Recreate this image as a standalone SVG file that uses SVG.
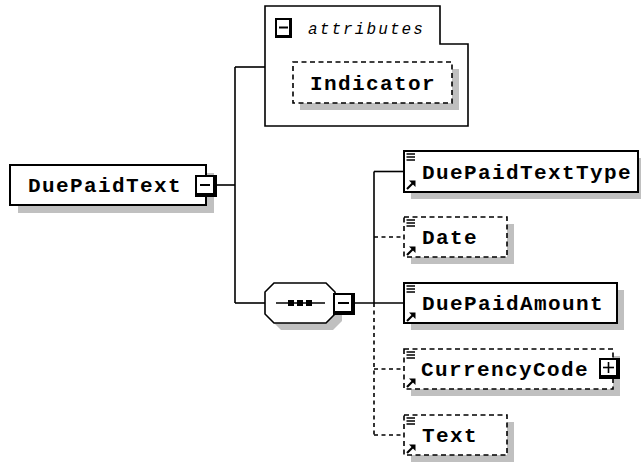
<svg xmlns="http://www.w3.org/2000/svg" width="641" height="466" viewBox="0 0 641 466">
<style>
.shadow{fill:#c0c0c0;stroke:none}
.box{fill:#fff;stroke:#000;stroke-width:2}
.dbox{fill:#fff;stroke:#000;stroke-width:1.6;stroke-dasharray:5,3.5}
.lbl{font-family:"Liberation Mono",monospace;font-weight:bold;font-size:21px;letter-spacing:1.4px;fill:#000}
.ital{font-family:"Liberation Mono",monospace;font-style:italic;font-size:16px;letter-spacing:2.1px;fill:#000}
.ln{stroke:#000;stroke-width:1.6;fill:none}
.dl{stroke:#000;stroke-width:1.6;fill:none;stroke-dasharray:4,3.5}
.ic{stroke:#000;stroke-width:1.4;fill:none}
</style>
<defs>
<g id="elicon">
<path class="ic" d="M2.5,3 H11 M2.5,6 H11 M2.5,9 H11"/>
<path d="M3,38 L9,32" stroke="#000" stroke-width="2.2" fill="none"/>
<path d="M5,29.5 L11.5,29.5 L11.5,36 Z" fill="#000"/>
</g>
</defs>
<rect width="641" height="466" fill="#fff"/>

<g id="connectors">
<line class="ln" x1="217" y1="185" x2="235" y2="185"/>
<line class="ln" x1="235" y1="67" x2="235" y2="303"/>
<line class="ln" x1="235" y1="67" x2="265" y2="67"/>
<line class="ln" x1="235" y1="303" x2="265" y2="303"/>
<line class="ln" x1="355" y1="303" x2="404" y2="303"/>
<line class="ln" x1="374" y1="171.5" x2="374" y2="303"/>
<line class="ln" x1="374" y1="171.5" x2="404" y2="171.5"/>
<line class="dl" x1="374" y1="237" x2="404" y2="237"/>
<line class="dl" x1="374" y1="303" x2="374" y2="435"/>
<line class="dl" x1="374" y1="369" x2="404" y2="369"/>
<line class="dl" x1="374" y1="435" x2="404" y2="435"/>
</g>

<g id="DuePaidText">
<rect class="shadow" x="18" y="173" width="196" height="40"/>
<rect class="box" x="10" y="165" width="196" height="40"/>
<text class="lbl" x="28" y="192">DuePaidText</text>
<rect x="195" y="175" width="22" height="22" fill="#000"/>
<rect x="197" y="177" width="16" height="16" fill="#fff"/>
<line x1="200" y1="185" x2="210" y2="185" stroke="#000" stroke-width="2"/>
</g>

<g id="attributes">
<path d="M265,126 V6 H440 V44 H468 V126 Z" fill="#fff" stroke="#000" stroke-width="1.6"/>
<rect x="275" y="18" width="17" height="20" fill="#000"/>
<rect x="277" y="20" width="12" height="15" fill="#fff"/>
<line x1="279" y1="27.5" x2="288" y2="27.5" stroke="#000" stroke-width="2"/>
<text class="ital" x="308" y="34">attributes</text>
</g>

<g id="Indicator">
<rect class="shadow" x="300" y="69" width="159" height="41"/>
<rect class="dbox" x="293" y="62" width="159" height="41"/>
<text class="lbl" x="310" y="90">Indicator</text>
</g>

<g id="sequence">
<path class="shadow" d="M281,290 H333 L342,299 V321 L333,330 H281 L272,321 V299 Z"/>
<path d="M274,283 H326 L335,292 V314 L326,323 H274 L265,314 V292 Z" fill="#fff" stroke="#000" stroke-width="1.6"/>
<line x1="276" y1="303" x2="325" y2="303" stroke="#000" stroke-width="1.6"/>
<rect x="288" y="300" width="6" height="6" fill="#000"/>
<rect x="297" y="300" width="6" height="6" fill="#000"/>
<rect x="306" y="300" width="6" height="6" fill="#000"/>
<rect x="333" y="293" width="22" height="22" fill="#000"/>
<rect x="335" y="295" width="16" height="16" fill="#fff"/>
<line x1="338" y1="303" x2="349" y2="303" stroke="#000" stroke-width="2"/>
</g>

<g id="DuePaidTextType">
<rect class="shadow" x="411" y="158" width="234" height="41"/>
<rect class="box" x="404" y="151" width="234" height="41"/>
<use href="#elicon" x="404" y="151"/>
<text class="lbl" x="422" y="178.5">DuePaidTextType</text>
</g>

<g id="Date">
<rect class="shadow" x="411" y="224" width="103" height="40"/>
<rect class="dbox" x="404" y="217" width="103" height="40"/>
<use href="#elicon" x="404" y="217"/>
<text class="lbl" x="422" y="244">Date</text>
</g>

<g id="DuePaidAmount">
<rect class="shadow" x="411" y="290" width="213" height="40"/>
<rect class="box" x="404" y="283" width="213" height="40"/>
<use href="#elicon" x="404" y="283"/>
<text class="lbl" x="422" y="310">DuePaidAmount</text>
</g>

<g id="CurrencyCode">
<rect class="shadow" x="411" y="356" width="209" height="40"/>
<rect class="dbox" x="404" y="349" width="209" height="40"/>
<use href="#elicon" x="404" y="349"/>
<text class="lbl" x="421" y="376">CurrencyCode</text>
<rect x="599" y="358" width="21" height="21" fill="#000"/>
<rect x="601" y="360" width="15" height="15" fill="#fff"/>
<line x1="603" y1="367.5" x2="614" y2="367.5" stroke="#000" stroke-width="1.6"/>
<line x1="608.5" y1="362" x2="608.5" y2="373" stroke="#000" stroke-width="1.6"/>
</g>

<g id="Text">
<rect class="shadow" x="411" y="422" width="103" height="40"/>
<rect class="dbox" x="404" y="415" width="103" height="40"/>
<use href="#elicon" x="404" y="415"/>
<text class="lbl" x="422" y="442">Text</text>
</g>
</svg>
